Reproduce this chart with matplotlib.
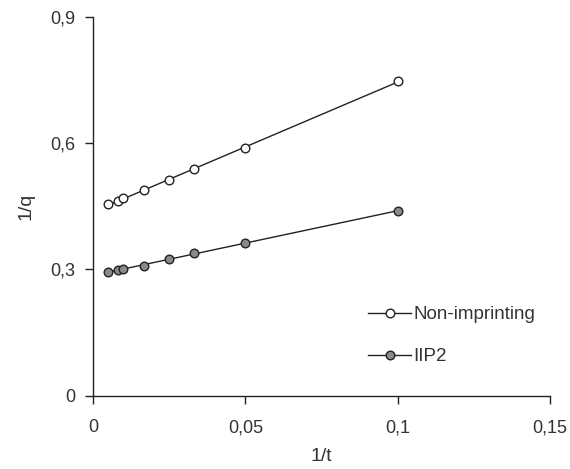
import numpy as np
import matplotlib
matplotlib.use('Agg')
from matplotlib import pyplot as plt
from matplotlib.ticker import FuncFormatter

plt.rcParams['font.family'] = ['Liberation Sans', 'DejaVu Sans']

# 1/t values (t = 200, 120, 100, 60, 40, 30, 20, 10)
inv_t = [0.005, 0.0083, 0.01, 0.0167, 0.025, 0.0333, 0.05, 0.1]
non_imprinting = [0.455, 0.4625, 0.469, 0.488, 0.513, 0.539, 0.589, 0.747]
iip2 = [0.294, 0.298, 0.302, 0.309, 0.324, 0.338, 0.364, 0.439]

x_ticks = [0, 0.05, 0.1, 0.15]
y_ticks = [0, 0.3, 0.6, 0.9]

text_color = '#333333'
line_color = '#222222'

fig = plt.figure(figsize=(5.7, 4.69), dpi=100)
ax = fig.add_axes([0.1632, 0.1563, 0.8018, 0.8075])


def plot_series(x, y, face, label):
    x = np.array(x)
    y = np.array(y)
    slope, intercept = np.polyfit(x, y, 1)
    xs = np.array([x.min(), x.max()])
    ax.plot(xs, slope * xs + intercept, color=line_color, lw=1.0, zorder=2)
    ax.plot(x, y, 'o', ms=6.2, mfc=face, mec=line_color, mew=1.0, zorder=3)
    # handle for legend
    ax.plot([], [], '-o', color=line_color, lw=1.0, ms=6.2, mfc=face,
            mec=line_color, mew=1.0, label=label)


plot_series(inv_t, non_imprinting, 'white', 'Non-imprinting')
plot_series(inv_t, iip2, '#8a8a8a', 'IIP2')

ax.set_xlim(0, 0.15)
ax.set_ylim(0, 0.9)
ax.set_xticks(x_ticks)
ax.set_yticks(y_ticks)
fmt = FuncFormatter(lambda v, p: ('%g' % v).replace('.', ','))
ax.xaxis.set_major_formatter(fmt)
ax.yaxis.set_major_formatter(fmt)

for side in ['top', 'right']:
    ax.spines[side].set_visible(False)
for side in ['left', 'bottom']:
    ax.spines[side].set_color(line_color)
    ax.spines[side].set_linewidth(1.0)

ax.tick_params(direction='out', length=6, width=1.0, color=line_color,
               labelsize=13, labelcolor=text_color)
ax.tick_params(axis='x', pad=11)
ax.tick_params(axis='y', pad=6.5)

ax.set_xlabel('1/t', fontsize=14, color=text_color, labelpad=8.5)
ax.set_ylabel('1/q', fontsize=14, color=text_color, labelpad=11.5)

ax.legend(loc='upper left', bbox_to_anchor=(0.6024, 0.2363), frameon=False,
          fontsize=13.5, handlelength=2.26, labelspacing=1.32,
          handletextpad=0.15, borderpad=0, borderaxespad=0,
          labelcolor=text_color)

fig.savefig('out.png', dpi=100)
